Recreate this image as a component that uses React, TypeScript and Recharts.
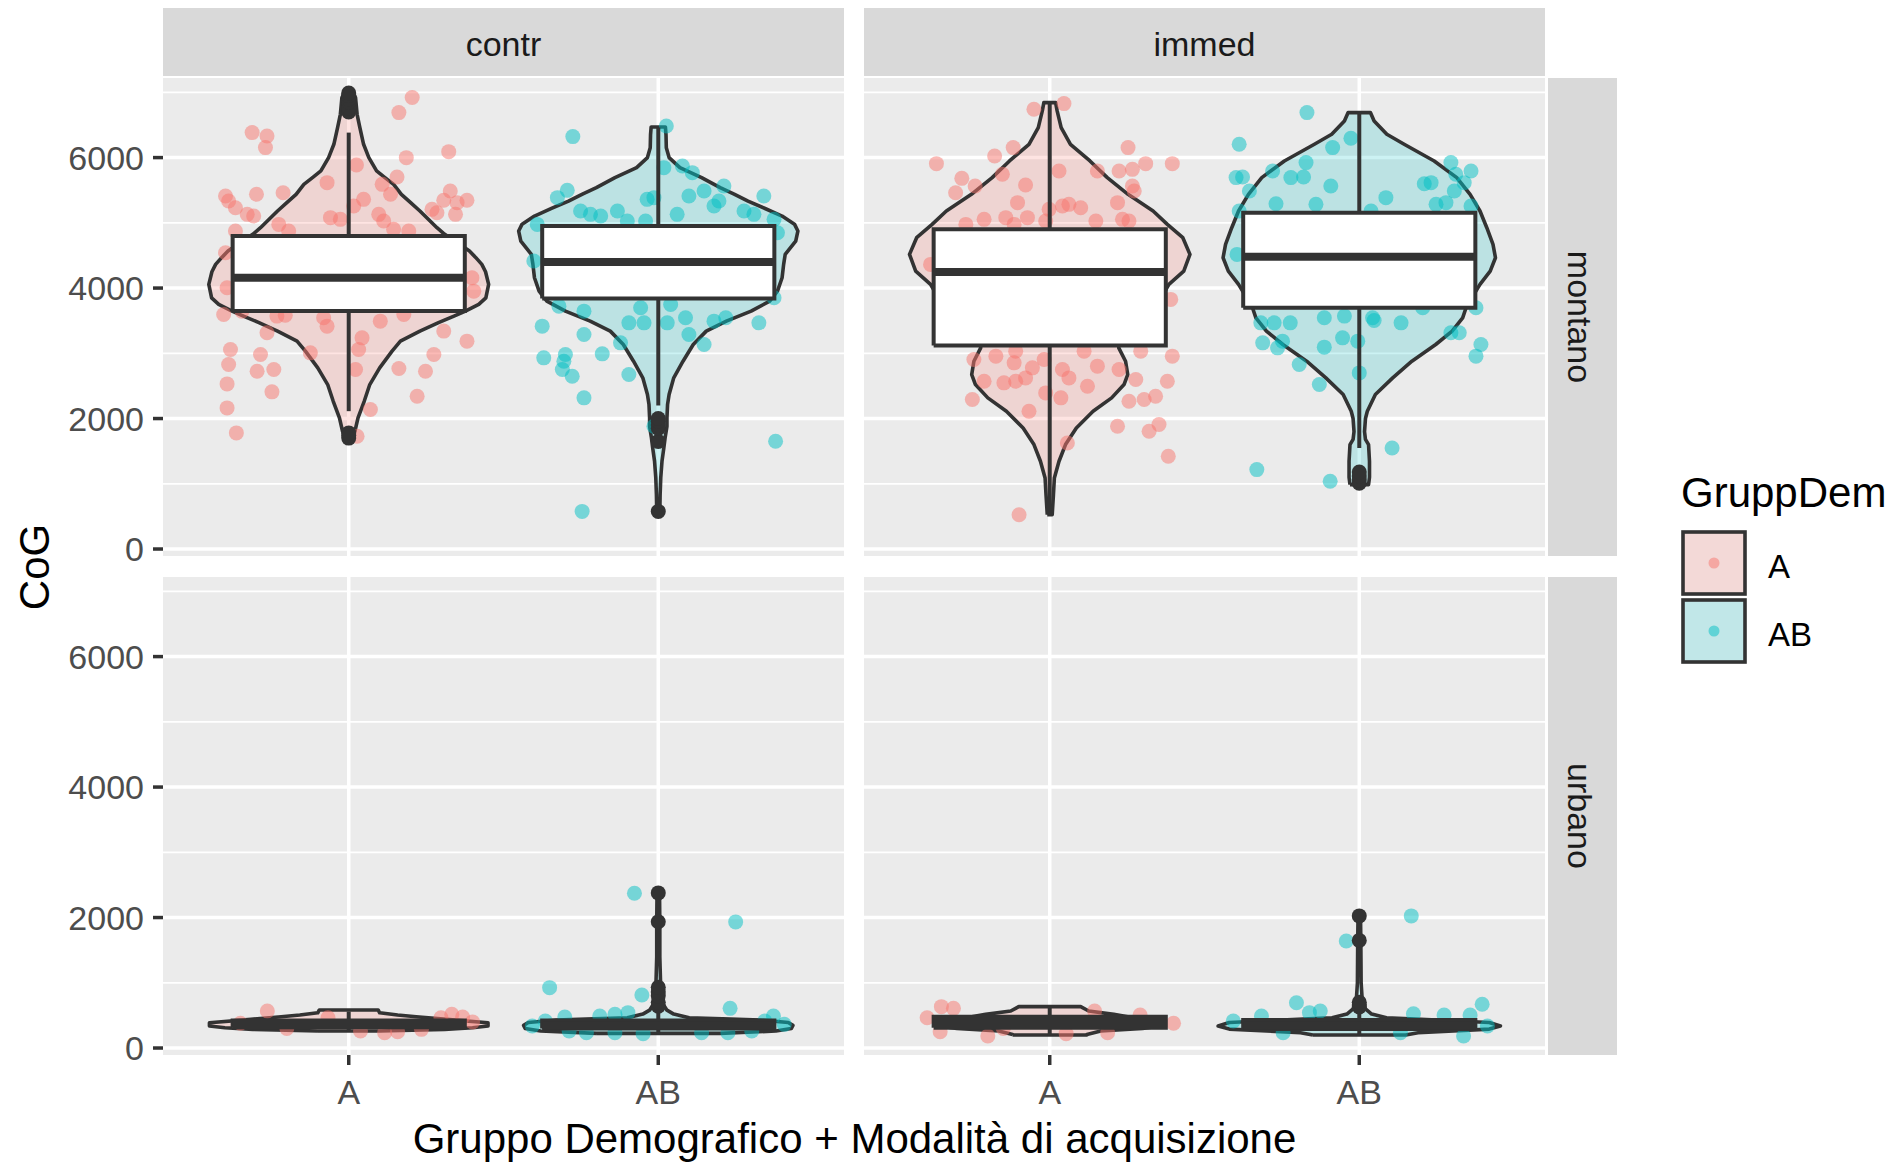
import React from 'react';
import { ScatterChart, Scatter, XAxis, YAxis } from 'recharts';

const FONT = '"Liberation Sans", Arial, Helvetica, sans-serif';

// ---------- facets, categories, ticks ----------
const categories = ['A', 'AB'];
const columnFacets = ['contr', 'immed'];
const rowFacets = ['montano', 'urbano'];
const yTicks = [0, 2000, 4000, 6000];
const yMinorTicks = [1000, 3000, 5000, 7000];
const xTicks = [1, 2];
const yDomain: [number, number] = [-107, 7220];
const xDomain: [number, number] = [0.4, 2.6];
const legendTitle = 'GruppDem';
const xTitle = 'Gruppo Demografico + Modalità di acquisizione';
const yTitle = 'CoG';
const groupColors: Record<string, string> = { A: '#F8766D', AB: '#00BFC4' };
const violinFills: Record<string, string> = { A: 'rgba(248,118,109,0.2)', AB: 'rgba(0,191,196,0.2)' };

// ---------- violin profiles: [CoG, half width in category units] ----------
const violinContrMontanoA: [number, number][] = [
  [1680, 0.006], [1805, 0.02], [2010, 0.03], [2265, 0.05], [2521, 0.068], [2777, 0.1], [3033, 0.14],
  [3186, 0.167], [3340, 0.23], [3470, 0.29], [3570, 0.34], [3646, 0.377], [3749, 0.42], [3850, 0.443],
  [4056, 0.452], [4250, 0.442], [4363, 0.43], [4470, 0.41], [4567, 0.39], [4700, 0.35], [4823, 0.31],
  [4925, 0.285], [5050, 0.258], [5181, 0.23], [5310, 0.2], [5437, 0.17], [5590, 0.145], [5700, 0.115],
  [5795, 0.09], [6000, 0.065], [6204, 0.048], [6460, 0.036], [6664, 0.027], [6920, 0.022], [7000, 0.013],
];
const violinContrMontanoAB: [number, number][] = [
  [577, 0.005], [833, 0.006], [1089, 0.008], [1345, 0.012], [1550, 0.018], [1703, 0.022], [1880, 0.028],
  [2010, 0.028], [2214, 0.03], [2368, 0.035], [2624, 0.05], [2879, 0.08], [3135, 0.113], [3340, 0.155],
  [3493, 0.22], [3646, 0.3], [3800, 0.36], [3953, 0.385], [4158, 0.4], [4363, 0.405], [4516, 0.41],
  [4721, 0.444], [4874, 0.451], [4980, 0.44], [5104, 0.4], [5220, 0.345], [5334, 0.29], [5440, 0.245],
  [5539, 0.2], [5693, 0.14], [5846, 0.07], [6000, 0.035], [6150, 0.026], [6350, 0.025], [6470, 0.023],
];
const violinImmedMontanoA: [number, number][] = [
  [526, 0.008], [833, 0.012], [1089, 0.015], [1345, 0.03], [1601, 0.051], [1856, 0.086], [2112, 0.14],
  [2317, 0.2], [2521, 0.24], [2675, 0.252], [2879, 0.245], [3084, 0.223], [3250, 0.225], [3450, 0.26],
  [3647, 0.32], [3850, 0.36], [4056, 0.385], [4260, 0.433], [4516, 0.453], [4772, 0.43], [4976, 0.38],
  [5181, 0.334], [5437, 0.253], [5693, 0.186], [5948, 0.13], [6204, 0.067], [6460, 0.037], [6716, 0.024],
  [6843, 0.019],
];
const violinImmedMontanoAB: [number, number][] = [
  [987, 0.03], [1100, 0.033], [1345, 0.033], [1600, 0.03], [1680, 0.02], [1800, 0.017], [2000, 0.02],
  [2112, 0.026], [2368, 0.052], [2624, 0.108], [2879, 0.17], [3135, 0.247], [3340, 0.3], [3544, 0.334],
  [3698, 0.345], [3900, 0.37], [4056, 0.39], [4260, 0.423], [4465, 0.44], [4670, 0.432], [4925, 0.412],
  [5181, 0.39], [5437, 0.358], [5693, 0.315], [5948, 0.242], [6204, 0.145], [6357, 0.089], [6562, 0.048],
  [6690, 0.036],
];
const violinContrUrbanoA: [number, number][] = [
  [260, 0.1], [286, 0.31], [310, 0.4], [337, 0.45], [388, 0.45], [439, 0.316], [480, 0.218], [506, 0.158],
  [540, 0.1], [583, 0.095],
];
const violinContrUrbanoAB: [number, number][] = [
  [225, 0.2], [260, 0.38], [300, 0.43], [347, 0.435], [390, 0.42], [430, 0.33], [465, 0.1], [520, 0.05],
  [580, 0.028], [700, 0.012], [900, 0.008], [1400, 0.005], [1935, 0.005], [2378, 0.004],
];
const violinImmedUrbanoA: [number, number][] = [
  [199, 0.12], [209, 0.12], [260, 0.165], [300, 0.3], [350, 0.37], [400, 0.37], [465, 0.27], [516, 0.207],
  [567, 0.126], [634, 0.1],
];
const violinImmedUrbanoAB: [number, number][] = [
  [200, 0.15], [235, 0.19], [290, 0.42], [337, 0.456], [390, 0.42], [430, 0.25], [465, 0.088], [520, 0.04],
  [600, 0.02], [700, 0.01], [1000, 0.006], [1650, 0.005], [2025, 0.004],
];

// ---------- boxplots: [lower whisker, Q1, median, Q3, upper whisker] ----------
const boxContrMontanoA = [2113, 3647, 4158, 4798, 6383];
const boxContrMontanoAB = [2200, 3841, 4398, 4951, 6460];
const boxImmedMontanoA = [526, 3120, 4245, 4900, 6843];
const boxImmedMontanoAB = [1549, 3698, 4480, 5155, 6690];
const boxContrUrbanoA = [250, 320, 370, 420, 560];
const boxContrUrbanoAB = [220, 300, 350, 420, 600];
const boxImmedUrbanoA = [190, 310, 400, 480, 634];
const boxImmedUrbanoAB = [200, 290, 350, 430, 600];

// ---------- outliers ----------
const outContrMontanoA = [1700, 1740, 1780, 6700, 6760, 6850, 6900, 6950, 6990];
const outContrMontanoAB = [577, 1650, 1850, 1900, 1960, 2000];
const outImmedMontanoA: number[] = [];
const outImmedMontanoAB = [1010, 1060, 1120, 1180];
const outContrUrbanoA: number[] = [];
const outContrUrbanoAB = [640, 700, 800, 860, 930, 1935, 2378];
const outImmedUrbanoA: number[] = [];
const outImmedUrbanoAB = [630, 660, 700, 1650, 2025];

// ---------- jittered points: [x offset, CoG] ----------
const jitterContrMontanoA: [number, number][] = [
  [0.205, 6920], [0.162, 6690], [-0.312, 6383], [-0.264, 6332], [-0.269, 6153], [0.323, 6091], [0.186, 5999],
  [0.025, 5887], [0.156, 5703], [-0.07, 5616], [0.108, 5590], [0.135, 5437], [-0.398, 5411], [-0.388, 5334],
  [-0.298, 5437], [-0.212, 5462], [0.048, 5360], [0.016, 5258], [0.328, 5488], [0.307, 5345], [0.35, 5309],
  [0.382, 5345], [-0.366, 5232], [-0.328, 5130], [-0.307, 5104], [0.269, 5207], [0.285, 5155], [0.345, 5130],
  [-0.059, 5079], [-0.027, 5053], [0.097, 5130], [0.113, 5028], [-0.226, 4976], [-0.194, 4874], [-0.366, 4874],
  [0.194, 4874], [0.145, 4900], [-0.398, 4542], [-0.393, 4005], [0.398, 4158], [0.404, 3953], [-0.404, 3595],
  [-0.345, 3646], [-0.232, 3570], [-0.205, 3585], [-0.081, 3544], [-0.07, 3416], [0.102, 3493], [0.178, 3595],
  [0.307, 3340], [-0.264, 3314], [0.043, 3237], [0.032, 3058], [0.382, 3186], [0.275, 2982], [-0.382, 3058],
  [-0.285, 2982], [-0.124, 3007], [-0.388, 2828], [-0.296, 2726], [-0.242, 2751], [0.022, 2751], [0.162, 2767],
  [0.248, 2726], [-0.393, 2531], [-0.248, 2409], [0.221, 2342], [-0.393, 2163], [0.07, 2138], [-0.363, 1780],
  [0.027, 1728],
];
const jitterContrMontanoAB: [number, number][] = [
  [0.026, 6485], [-0.276, 6322], [0.018, 5846], [0.078, 5872], [0.11, 5769], [-0.294, 5498], [-0.326, 5386],
  [-0.036, 5360], [-0.014, 5386], [0.099, 5411], [0.148, 5488], [0.212, 5565], [0.341, 5411], [0.18, 5258],
  [0.196, 5334], [-0.251, 5181], [-0.219, 5130], [-0.186, 5104], [-0.132, 5181], [-0.1, 5028], [0.061, 5130],
  [-0.041, 5028], [0.277, 5181], [0.309, 5130], [0.374, 5053], [-0.391, 4976], [-0.402, 4414], [0.385, 4848],
  [-0.321, 3723], [-0.24, 3646], [-0.057, 3698], [0.04, 3749], [-0.375, 3416], [-0.095, 3467], [-0.046, 3467],
  [0.029, 3467], [0.088, 3544], [0.18, 3493], [0.218, 3544], [0.325, 3467], [-0.24, 3288], [0.099, 3288],
  [-0.37, 2930], [-0.3, 2981], [-0.305, 2879], [-0.181, 2992], [-0.122, 3160], [0.148, 3135], [-0.31, 2751],
  [-0.278, 2649], [-0.095, 2675], [-0.24, 2317], [-0.014, 1882], [0.379, 1652], [-0.246, 577], [0.374, 3851],
];
const jitterImmedMontanoA: [number, number][] = [
  [-0.051, 6741], [0.046, 6828], [-0.118, 6153], [-0.178, 6025], [0.253, 6153], [-0.366, 5907], [0.31, 5907],
  [0.396, 5907], [0.03, 5795], [0.154, 5795], [0.224, 5795], [0.267, 5820], [-0.284, 5682], [-0.304, 5462],
  [-0.241, 5565], [-0.153, 5744], [-0.078, 5580], [0.267, 5565], [0.273, 5488], [-0.104, 5309], [0.041, 5258],
  [0.062, 5283], [0.1, 5232], [-0.002, 5207], [0.219, 5309], [-0.271, 4976], [-0.212, 5053], [-0.142, 5079],
  [-0.115, 4976], [-0.072, 5079], [-0.013, 5028], [0.149, 5028], [0.235, 5053], [0.256, 5028], [-0.385, 4363],
  [0.391, 3826], [-0.245, 2905], [-0.174, 2956], [-0.11, 3033], [-0.115, 2854], [-0.056, 2777], [-0.018, 2905],
  [0.041, 2751], [0.111, 3033], [0.154, 2803], [0.294, 3033], [0.396, 2956], [-0.212, 2572], [-0.148, 2547],
  [-0.11, 2572], [-0.078, 2623], [0.062, 2623], [0.122, 2496], [0.224, 2751], [0.278, 2598], [0.38, 2572],
  [-0.013, 2393], [0.036, 2317], [-0.25, 2291], [0.256, 2266], [0.305, 2291], [0.342, 2342], [-0.067, 2112],
  [0.219, 1882], [0.321, 1805], [0.353, 1908], [0.057, 1626], [0.383, 1421], [-0.099, 526],
];
const jitterImmedMontanoAB: [number, number][] = [
  [-0.169, 6690], [-0.388, 6204], [-0.027, 6296], [-0.086, 6153], [-0.172, 5923], [-0.28, 5795], [-0.398, 5693],
  [-0.377, 5703], [-0.221, 5693], [-0.18, 5703], [-0.092, 5565], [-0.355, 5488], [0.296, 5923], [0.361, 5795],
  [0.312, 5744], [0.21, 5600], [0.232, 5616], [0.339, 5616], [0.307, 5488], [0.086, 5386], [-0.269, 5293],
  [-0.14, 5283], [0.248, 5283], [0.28, 5309], [0.361, 5258], [-0.388, 5181], [0.038, 5181], [-0.395, 4516],
  [0.377, 3698], [-0.318, 3467], [-0.275, 3467], [-0.223, 3467], [-0.113, 3544], [-0.048, 3570], [0.043, 3544],
  [0.048, 3503], [0.135, 3467], [0.205, 3698], [-0.312, 3160], [-0.248, 3186], [-0.264, 3084], [-0.113, 3094],
  [-0.054, 3237], [-0.005, 3186], [0.296, 3314], [0.323, 3314], [0.393, 3135], [0.377, 2956], [-0.194, 2828],
  [0, 2700], [-0.129, 2521], [0.106, 1549], [-0.331, 1217], [-0.094, 1038],
];
const jitterContrUrbanoA: [number, number][] = [
  [-0.263, 567], [-0.067, 465], [0.038, 260], [0.116, 235], [0.158, 250], [0.235, 286], [0.333, 516],
  [0.368, 475], [0.298, 465], [-0.35, 380], [0.4, 400], [-0.2, 300],
];
const jitterContrUrbanoAB: [number, number][] = [
  [-0.077, 2373], [0.25, 1933], [-0.351, 925], [-0.053, 813], [0.232, 608], [-0.302, 475], [-0.365, 414],
  [-0.189, 490], [-0.14, 516], [-0.098, 542], [0.372, 490], [0.344, 414], [0.407, 363], [-0.288, 260],
  [-0.232, 235], [-0.14, 235], [-0.049, 220], [0.14, 235], [0.225, 235], [0.302, 260], [-0.407, 337],
];
const jitterImmedUrbanoA: [number, number][] = [
  [-0.396, 465], [-0.35, 634], [-0.311, 608], [-0.354, 250], [-0.2, 184], [0.053, 220], [0.145, 567],
  [0.187, 235], [0.292, 506], [0.4, 380], [-0.15, 300],
];
const jitterImmedUrbanoAB: [number, number][] = [
  [0.168, 2025], [-0.042, 1641], [-0.203, 695], [0.397, 670], [-0.407, 414], [-0.316, 490], [-0.161, 542],
  [-0.126, 567], [0.175, 526], [0.274, 506], [0.358, 506], [0.337, 184], [-0.246, 235], [0.133, 235],
  [0.414, 337],
];

type Group = { violin: [number, number][]; box: number[]; outliers: number[]; jitter: [number, number][] };
const panelData: Record<string, Record<string, Group>> = {
  'contr|montano': {
    A: { violin: violinContrMontanoA, box: boxContrMontanoA, outliers: outContrMontanoA, jitter: jitterContrMontanoA },
    AB: { violin: violinContrMontanoAB, box: boxContrMontanoAB, outliers: outContrMontanoAB, jitter: jitterContrMontanoAB },
  },
  'immed|montano': {
    A: { violin: violinImmedMontanoA, box: boxImmedMontanoA, outliers: outImmedMontanoA, jitter: jitterImmedMontanoA },
    AB: { violin: violinImmedMontanoAB, box: boxImmedMontanoAB, outliers: outImmedMontanoAB, jitter: jitterImmedMontanoAB },
  },
  'contr|urbano': {
    A: { violin: violinContrUrbanoA, box: boxContrUrbanoA, outliers: outContrUrbanoA, jitter: jitterContrUrbanoA },
    AB: { violin: violinContrUrbanoAB, box: boxContrUrbanoAB, outliers: outContrUrbanoAB, jitter: jitterContrUrbanoAB },
  },
  'immed|urbano': {
    A: { violin: violinImmedUrbanoA, box: boxImmedUrbanoA, outliers: outImmedUrbanoA, jitter: jitterImmedUrbanoA },
    AB: { violin: violinImmedUrbanoAB, box: boxImmedUrbanoAB, outliers: outImmedUrbanoAB, jitter: jitterImmedUrbanoAB },
  },
};

// ---------- layout ----------
const Y_AXIS_W = 163;
const PANEL_W = 681;
const PANEL_H = 478;
const X_AXIS_H = 70;
const TOP_ROW_PAD = 20;
const PANEL_X = [163, 864];
const PANEL_Y = [78, 577];
const BOX_HALF = 0.375;
const DARK = '#333333';
const POINT_R = 7.5;

const renderNothing = () => <g />;

function lineScatter(key: string, data: { x: number; y: number }[], style: Record<string, any>) {
  return (
    <Scatter
      key={key}
      data={data}
      isAnimationActive={false}
      line={{ strokeLinejoin: 'round', strokeLinecap: 'butt', ...style }}
      lineType="joint"
      lineJointType="linear"
      shape={renderNothing}
      legendType="none"
    />
  );
}

function violinPolygon(center: number, profile: [number, number][]) {
  const left = profile.map(([v, w]) => ({ x: center - w, y: v }));
  const right = [...profile].reverse().map(([v, w]) => ({ x: center + w, y: v }));
  return [...left, ...right, left[0]];
}

function buildSeries(col: string, row: string) {
  const groups = panelData[`${col}|${row}`];
  const els: React.ReactNode[] = [];
  yMinorTicks.forEach((v) =>
    els.push(lineScatter(`gmin${v}`, [{ x: xDomain[0], y: v }, { x: xDomain[1], y: v }], { stroke: '#FFFFFF', strokeWidth: 1.8, fill: 'none' }))
  );
  yTicks.forEach((v) =>
    els.push(lineScatter(`gmaj${v}`, [{ x: xDomain[0], y: v }, { x: xDomain[1], y: v }], { stroke: '#FFFFFF', strokeWidth: 3.5, fill: 'none' }))
  );
  xTicks.forEach((c) =>
    els.push(lineScatter(`gx${c}`, [{ x: c, y: yDomain[0] }, { x: c, y: yDomain[1] }], { stroke: '#FFFFFF', strokeWidth: 3.5, fill: 'none' }))
  );
  categories.forEach((cat, i) => {
    const g = groups[cat];
    els.push(lineScatter(`v${cat}`, violinPolygon(i + 1, g.violin), { stroke: DARK, strokeWidth: 3.6, fill: violinFills[cat] }));
  });
  categories.forEach((cat, i) => {
    const g = groups[cat];
    const c = i + 1;
    els.push(
      <Scatter
        key={`j${cat}`}
        data={g.jitter.map(([dx, v]) => ({ x: c + dx, y: v }))}
        isAnimationActive={false}
        legendType="none"
        shape={(p: any) => <circle cx={p.cx} cy={p.cy} r={POINT_R} fill={groupColors[cat]} fillOpacity={0.5} />}
      />
    );
  });
  categories.forEach((cat, i) => {
    const g = groups[cat];
    const c = i + 1;
    const [lo, q1, med, q3, hi] = g.box;
    els.push(lineScatter(`wl${cat}`, [{ x: c, y: lo }, { x: c, y: q1 }], { stroke: DARK, strokeWidth: 4, fill: 'none' }));
    els.push(lineScatter(`wh${cat}`, [{ x: c, y: q3 }, { x: c, y: hi }], { stroke: DARK, strokeWidth: 4, fill: 'none' }));
    els.push(
      lineScatter(
        `b${cat}`,
        [
          { x: c - BOX_HALF, y: q1 },
          { x: c + BOX_HALF, y: q1 },
          { x: c + BOX_HALF, y: q3 },
          { x: c - BOX_HALF, y: q3 },
          { x: c - BOX_HALF, y: q1 },
        ],
        { stroke: DARK, strokeWidth: 4, fill: '#FFFFFF', strokeLinejoin: 'miter' }
      )
    );
    els.push(lineScatter(`m${cat}`, [{ x: c - BOX_HALF, y: med }, { x: c + BOX_HALF, y: med }], { stroke: DARK, strokeWidth: 8, fill: 'none' }));
    if (g.outliers.length) {
      els.push(
        <Scatter
          key={`o${cat}`}
          data={g.outliers.map((v) => ({ x: c, y: v }))}
          isAnimationActive={false}
          legendType="none"
          shape={(p: any) => <circle cx={p.cx} cy={p.cy} r={POINT_R} fill={DARK} />}
        />
      );
    }
  });
  return els;
}

function Panel({ colIdx, rowIdx }: { colIdx: number; rowIdx: number }) {
  const showY = colIdx === 0;
  const showX = rowIdx === 1;
  const bottomPad = showX ? 0 : TOP_ROW_PAD;
  const width = PANEL_W + (showY ? Y_AXIS_W : 0);
  const height = PANEL_H + (showX ? X_AXIS_H : 0) + bottomPad;
  const left = showY ? 0 : PANEL_X[colIdx];
  return (
    <div style={{ position: 'absolute', left, top: PANEL_Y[rowIdx] }}>
      <ScatterChart width={width} height={height} margin={{ top: 0, right: 0, bottom: bottomPad, left: 0 }}>
        <XAxis
          type="number"
          dataKey="x"
          domain={xDomain}
          ticks={xTicks}
          interval={0}
          allowDataOverflow
          hide={!showX}
          height={X_AXIS_H}
          tickFormatter={(v: number) => categories[v - 1]}
          tickSize={10}
          tickMargin={15}
          axisLine={false}
          tickLine={{ stroke: DARK, strokeWidth: 3.5 }}
          tick={{ fill: '#4D4D4D', fontSize: 34, fontFamily: FONT }}
        />
        <YAxis
          type="number"
          dataKey="y"
          domain={yDomain}
          ticks={yTicks}
          interval={0}
          allowDataOverflow
          hide={!showY}
          width={Y_AXIS_W}
          tickSize={10}
          tickMargin={9}
          axisLine={false}
          tickLine={{ stroke: DARK, strokeWidth: 3.5 }}
          tick={{ fill: '#4D4D4D', fontSize: 34, fontFamily: FONT }}
        />
        {buildSeries(columnFacets[colIdx], rowFacets[rowIdx])}
      </ScatterChart>
    </div>
  );
}

export default function App() {
  const stripTop = { y: 8, h: 68 };
  const stripRight = { x: 1548, w: 69 };
  return (
    <div style={{ position: 'absolute', left: 0, top: 0, width: 1896, height: 1164, background: '#FFFFFF', fontFamily: FONT, overflow: 'hidden' }}>
      <svg width={1896} height={1164} style={{ position: 'absolute', left: 0, top: 0 }}>
        {PANEL_X.map((px) =>
          PANEL_Y.map((py) => <rect key={`bg${px}-${py}`} x={px} y={py} width={PANEL_W} height={PANEL_H} fill="#EBEBEB" />)
        )}
        {columnFacets.map((name, i) => (
          <g key={`st${name}`}>
            <rect x={PANEL_X[i]} y={stripTop.y} width={PANEL_W} height={stripTop.h} fill="#D9D9D9" />
            <text x={PANEL_X[i] + PANEL_W / 2} y={56} textAnchor="middle" fontSize={34} fill="#1A1A1A" fontFamily={FONT}>
              {name}
            </text>
          </g>
        ))}
        {rowFacets.map((name, i) => (
          <g key={`sr${name}`}>
            <rect x={stripRight.x} y={PANEL_Y[i]} width={stripRight.w} height={PANEL_H} fill="#D9D9D9" />
            <text
              x={1568}
              y={PANEL_Y[i] + PANEL_H / 2}
              textAnchor="middle"
              fontSize={34}
              fill="#1A1A1A"
              fontFamily={FONT}
              transform={`rotate(90 1568 ${PANEL_Y[i] + PANEL_H / 2})`}
            >
              {name}
            </text>
          </g>
        ))}
        <text x={49} y={567} textAnchor="middle" fontSize={42} fill="#000000" fontFamily={FONT} transform="rotate(-90 49 567)">
          {yTitle}
        </text>
        <text x={854.5} y={1153} textAnchor="middle" fontSize={42} fill="#000000" fontFamily={FONT}>
          {xTitle}
        </text>
        <text x={1681} y={507} fontSize={42} fill="#000000" fontFamily={FONT}>
          {legendTitle}
        </text>
        {categories.map((cat, i) => {
          const ky = 532 + i * 68;
          return (
            <g key={`lg${cat}`}>
              <rect x={1683} y={ky} width={62} height={62} fill="#F2F2F2" />
              <rect x={1683} y={ky} width={62} height={62} fill={violinFills[cat]} stroke={DARK} strokeWidth={3.6} />
              <circle cx={1714} cy={ky + 31} r={5.5} fill={groupColors[cat]} fillOpacity={0.5} />
              <text x={1768} y={ky + 46} fontSize={33} fill="#000000" fontFamily={FONT}>
                {cat}
              </text>
            </g>
          );
        })}
      </svg>
      {[0, 1].map((r) => [0, 1].map((c) => <Panel key={`p${r}${c}`} colIdx={c} rowIdx={r} />))}
    </div>
  );
}
